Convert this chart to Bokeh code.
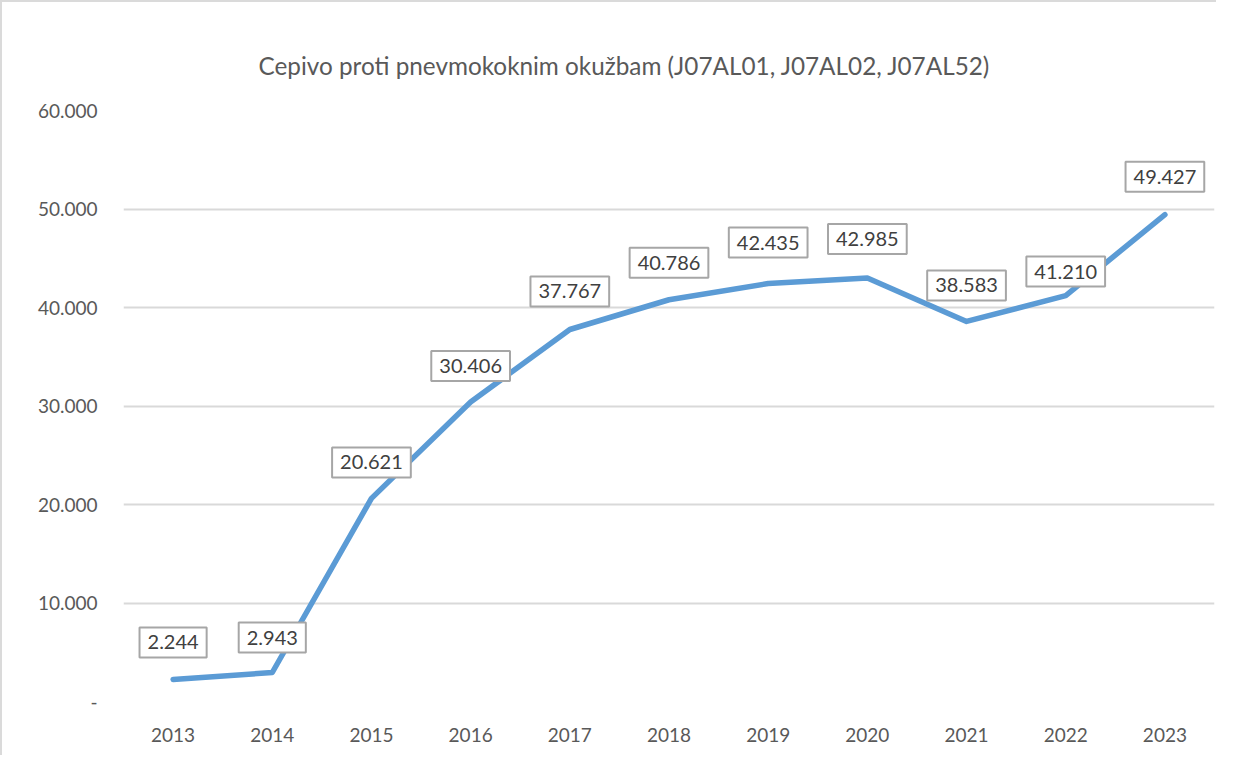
from bokeh.plotting import figure
from bokeh.models import (ColumnDataSource, Label, FixedTicker, CustomJSTickFormatter, Range1d)
from bokeh.embed import file_html
from bokeh.resources import INLINE

years = [2013, 2014, 2015, 2016, 2017, 2018, 2019, 2020, 2021, 2022, 2023]
doses = [2244, 2943, 20621, 30406, 37767, 40786, 42435, 42985, 38583, 41210, 49427]
y_ticks = [0, 10000, 20000, 30000, 40000, 50000, 60000]
title_text = "Cepivo proti pnevmokoknim okužbam (J07AL01, J07AL02, J07AL52)"

# label vertical offsets in pixels (style only)
label_dy = [37, 35, 36, 36, 38, 37, 41, 39, 36, 24, 38]

FONT = "Lato"
GREY = "#595959"

def fmt(v):
    return f"{v:,}".replace(",", ".")

src = ColumnDataSource(dict(x=years, y=doses))

p = figure(x_range=Range1d(years[0] - 0.5, years[-1] + 0.5), y_range=Range1d(0, 60000),
           width=1216, height=755,
           output_backend="svg", toolbar_location=None,
           min_border_left=121, min_border_right=4, min_border_top=108, min_border_bottom=56)
p.styles = {"border-left": "2px solid #dadada", "border-top": "2px solid #dadada"}
p.outline_line_color = None
p.background_fill_color = "white"
p.border_fill_color = "white"

p.title.text = title_text
p.title.text_font = FONT
p.title.text_font_size = "24.3px"
p.title.text_font_style = "normal"
p.title.text_color = GREY
p.title.align = "left"
p.title.offset = 135
p.title.standoff = 62

p.line("x", "y", source=src, line_color="#5B9BD5", line_width=5.5, line_join="round", line_cap="round")

for yr, v, dy in zip(years, doses, label_dy):
    lab = Label(x=yr, y=v, text=fmt(v), y_offset=dy,
                text_align="center", text_baseline="middle",
                text_font_size="20px", text_color="#404040",
                background_fill_color="white", border_line_color="#a6a6a6", border_line_width=2,
                padding=8)
    lab.text_font = FONT
    p.add_layout(lab)

p.xaxis.ticker = FixedTicker(ticks=years)
p.yaxis.ticker = FixedTicker(ticks=y_ticks)
p.yaxis.formatter = CustomJSTickFormatter(code="return tick == 0 ? '-' : (tick/1000).toFixed(3);")
for ax in (p.xaxis, p.yaxis):
    ax.axis_line_color = None
    ax.major_tick_line_color = None
    ax.minor_tick_line_color = None
    ax.major_label_text_font = FONT
    ax.major_label_text_font_size = "19px"
    ax.major_label_text_color = GREY
p.yaxis.major_label_standoff = 20
p.xaxis.major_label_standoff = 20

p.xgrid.grid_line_color = None
p.ygrid.grid_line_color = "#d9d9d9"
p.ygrid.grid_line_width = 2

open("out.html", "w").write(file_html(p, INLINE))
